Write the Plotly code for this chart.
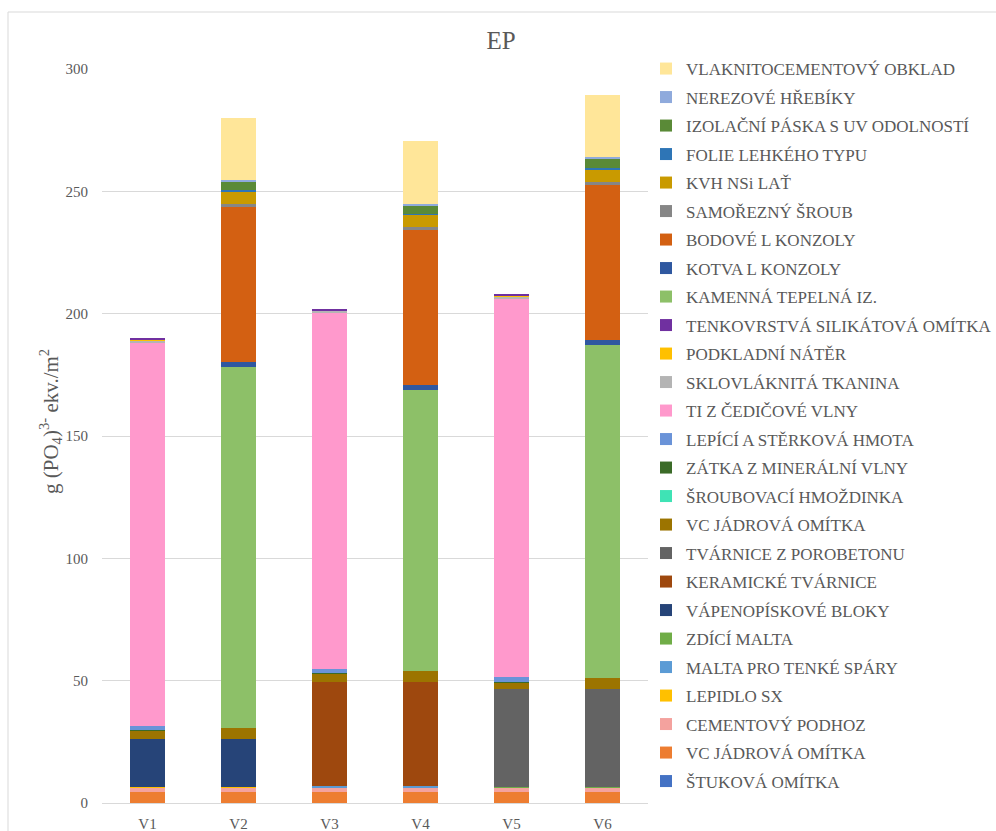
import plotly.graph_objects as go

categories = ["V1", "V2", "V3", "V4", "V5", "V6"]

# Series (bottom of stack first)
stukova_omitka = [0.1, 0.1, 0.1, 0.1, 0.1, 0.1]
vc_jadrova_omitka_1 = [4.2, 4.2, 4.2, 4.2, 4.2, 4.2]
cementovy_podhoz = [2.0, 2.0, 2.0, 2.0, 2.0, 2.0]
lepidlo_sx = [0.4, 0.4, 0.0, 0.0, 0.0, 0.0]
malta_tenke_spary = [0.0, 0.0, 0.8, 0.8, 0.0, 0.0]
zdici_malta = [0.0, 0.0, 0.0, 0.0, 0.3, 0.3]
vapenopiskove_bloky = [19.6, 19.6, 0.0, 0.0, 0.0, 0.0]
keramicke_tvarnice = [0.0, 0.0, 42.2, 42.2, 0.0, 0.0]
tvarnice_porobeton = [0.0, 0.0, 0.0, 0.0, 40.0, 40.0]
vc_jadrova_omitka_2 = [3.3, 4.4, 3.5, 4.6, 2.7, 4.5]
sroubovaci_hmozdinka = [0.1, 0.0, 0.1, 0.0, 0.1, 0.0]
zatka_mineralni_vlna = [0.1, 0.0, 0.1, 0.0, 0.1, 0.0]
lepici_sterkova_hmota = [1.6, 0.0, 1.9, 0.0, 1.8, 0.0]
ti_cedicova_vlna = [157.0, 0.0, 145.4, 0.0, 154.8, 0.0]
sklovlaknita_tkanina = [0.8, 0.0, 0.9, 0.0, 1.0, 0.0]
podkladni_nater = [0.2, 0.0, 0.2, 0.0, 0.2, 0.0]
tenkovrstva_omitka = [0.8, 0.0, 0.7, 0.0, 0.7, 0.0]
kamenna_tepelna_iz = [0.0, 147.5, 0.0, 115.0, 0.0, 136.2]
kotva_l_konzoly = [0.0, 2.1, 0.0, 1.8, 0.0, 1.9]
bodove_l_konzoly = [0.0, 63.3, 0.0, 63.3, 0.0, 63.2]
samorezny_sroub = [0.0, 1.3, 0.0, 1.4, 0.0, 1.5]
kvh_nsi_lat = [0.0, 5.2, 0.0, 5.2, 0.0, 5.2]
folie_lehkeho_typu = [0.0, 0.3, 0.0, 0.3, 0.0, 0.4]
izolacni_paska = [0.0, 3.8, 0.0, 3.5, 0.0, 3.8]
nerezove_hrebiky = [0.0, 0.4, 0.0, 0.5, 0.0, 0.8]
vlaknitocement_obklad = [0.0, 25.2, 0.0, 25.8, 0.0, 25.4]

series = [
    ("ŠTUKOVÁ OMÍTKA", stukova_omitka, "#4472C4"),
    ("VC JÁDROVÁ OMÍTKA", vc_jadrova_omitka_1, "#ED7D31"),
    ("CEMENTOVÝ PODHOZ", cementovy_podhoz, "#F4A29E"),
    ("LEPIDLO SX", lepidlo_sx, "#FFC000"),
    ("MALTA PRO TENKÉ SPÁRY", malta_tenke_spary, "#5B9BD5"),
    ("ZDÍCÍ MALTA", zdici_malta, "#70AD47"),
    ("VÁPENOPÍSKOVÉ BLOKY", vapenopiskove_bloky, "#264478"),
    ("KERAMICKÉ TVÁRNICE", keramicke_tvarnice, "#9E480E"),
    ("TVÁRNICE Z POROBETONU", tvarnice_porobeton, "#636363"),
    ("VC JÁDROVÁ OMÍTKA", vc_jadrova_omitka_2, "#9C7400"),
    ("ŠROUBOVACÍ HMOŽDINKA", sroubovaci_hmozdinka, "#3FE3B5"),
    ("ZÁTKA Z MINERÁLNÍ VLNY", zatka_mineralni_vlna, "#3B6B28"),
    ("LEPÍCÍ A STĚRKOVÁ HMOTA", lepici_sterkova_hmota, "#6A93D8"),
    ("TI Z ČEDIČOVÉ VLNY", ti_cedicova_vlna, "#FF99CC"),
    ("SKLOVLÁKNITÁ TKANINA", sklovlaknita_tkanina, "#B4B4B4"),
    ("PODKLADNÍ NÁTĚR", podkladni_nater, "#FFC000"),
    ("TENKOVRSTVÁ SILIKÁTOVÁ OMÍTKA", tenkovrstva_omitka, "#7030A0"),
    ("KAMENNÁ TEPELNÁ IZ.", kamenna_tepelna_iz, "#8DC068"),
    ("KOTVA L KONZOLY", kotva_l_konzoly, "#2F58A0"),
    ("BODOVÉ L KONZOLY", bodove_l_konzoly, "#D36012"),
    ("SAMOŘEZNÝ ŠROUB", samorezny_sroub, "#868686"),
    ("KVH NSi LAŤ", kvh_nsi_lat, "#C99A00"),
    ("FOLIE LEHKÉHO TYPU", folie_lehkeho_typu, "#2E75B6"),
    ("IZOLAČNÍ PÁSKA S UV ODOLNOSTÍ", izolacni_paska, "#5A8A37"),
    ("NEREZOVÉ HŘEBÍKY", nerezove_hrebiky, "#8FAADC"),
    ("VLAKNITOCEMENTOVÝ OBKLAD", vlaknitocement_obklad, "#FFE699"),
]

FONT = "Liberation Serif"
GRAY = "#595959"

fig = go.Figure()
n = len(series)
for i, (name, vals, color) in enumerate(series):
    fig.add_trace(go.Bar(
        x=categories, y=vals, name=name, legendgroup=f"g{i}", legendrank=n - i,
        marker=dict(color=color, line=dict(width=0)),
    ))

L, R, T, B = 102, 348, 69, 28
pw = 996 - L - R
ph = 831 - T - B

fig.update_layout(
    width=996, height=831,
    barmode="stack", bargap=0.615,
    paper_bgcolor="white", plot_bgcolor="white",
    margin=dict(l=L, r=R, t=T, b=B, autoexpand=False),
    font=dict(family=FONT, color=GRAY, size=15),
    title=dict(text="EP", x=501 / 996, xanchor="center", y=1 - 40 / 831, yanchor="middle",
               font=dict(family=FONT, size=25, color=GRAY)),
    xaxis=dict(showgrid=False, showline=False, ticks="", ticklabelstandoff=10,
               tickfont=dict(size=15, color=GRAY)),
    yaxis=dict(range=[0, 300], dtick=50, showgrid=True, gridcolor="#D9D9D9", gridwidth=1,
               zeroline=True, zerolinecolor="#D9D9D9", zerolinewidth=1,
               ticks="", ticklabelstandoff=13, tickfont=dict(size=15, color=GRAY)),
    annotations=[dict(text="g (PO<sub>4</sub>)<sup>3-</sup> ekv./m<sup>2</sup>",
                      xref="paper", yref="paper", x=(50 - L) / pw, y=(803 - 422) / ph,
                      xanchor="center", yanchor="middle", textangle=-90, showarrow=False,
                      font=dict(family=FONT, size=21, color=GRAY))],
    legend=dict(traceorder="grouped", tracegroupgap=3.4, maxheight=831,
                x=(646 - L) / pw, xanchor="left", y=(803 - 51) / ph, yanchor="top",
                font=dict(family=FONT, size=17, color=GRAY), bgcolor="rgba(0,0,0,0)"),
    shapes=[dict(type="rect", xref="paper", yref="paper",
                 x0=(8 - L) / pw, x1=(1000 - L) / pw, y0=(803 - 840) / ph, y1=(803 - 12) / ph,
                 line=dict(color="#D9D9D9", width=1), fillcolor="rgba(0,0,0,0)", layer="below")],
)

fig.write_html("out.html")
